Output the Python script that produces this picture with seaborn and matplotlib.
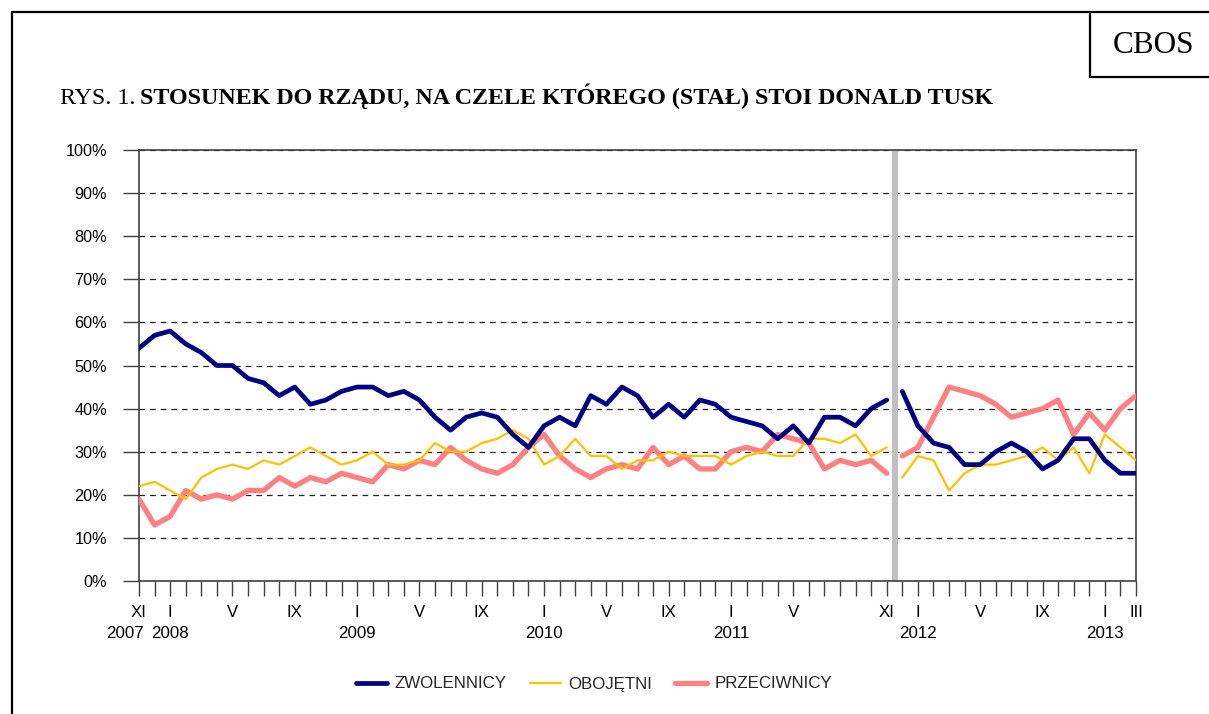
import numpy as np
import pandas as pd
import matplotlib
matplotlib.use("Agg")
import matplotlib.pyplot as plt
import matplotlib.transforms as mtransforms
from matplotlib.lines import Line2D
import seaborn as sns

# ---------------- data (percent) ----------------
# segment 1: XI 2007 - XI 2011 (monthly), segment 2: XII 2011 - III 2013
zwolennicy_1 = [54, 57, 58, 55, 53, 50, 50, 47, 46, 43, 45, 41, 42, 44, 45, 45, 43,
                44, 42, 38, 35, 38, 39, 38, 34, 31, 36, 38, 36, 43, 41, 45, 43,
                38, 41, 38, 42, 41, 38, 37, 36, 33, 36, 32, 38, 38, 36, 40, 42]
zwolennicy_2 = [44, 36, 32, 31, 27, 27, 30, 32, 30, 26, 28, 33, 33, 28, 25, 25]

obojetni_1 = [22, 23, 21, 19, 24, 26, 27, 26, 28, 27, 29, 31, 29, 27, 28, 30, 27,
              27, 28, 32, 30, 30, 32, 33, 35, 33, 27, 29, 33, 29, 29, 26, 28,
              28, 30, 29, 29, 29, 27, 29, 30, 29, 29, 33, 33, 32, 34, 29, 31]
obojetni_2 = [24, 29, 28, 21, 25, 27, 27, 28, 29, 31, 28, 31, 25, 34, 31, 28]

przeciwnicy_1 = [19, 13, 15, 21, 19, 20, 19, 21, 21, 24, 22, 24, 23, 25, 24, 23, 27,
                 26, 28, 27, 31, 28, 26, 25, 27, 31, 34, 29, 26, 24, 26, 27, 26,
                 31, 27, 29, 26, 26, 30, 31, 30, 34, 33, 32, 26, 28, 27, 28, 25]
przeciwnicy_2 = [29, 31, 38, 45, 44, 43, 41, 38, 39, 40, 42, 34, 39, 35, 40, 43]

series_names = ["ZWOLENNICY", "OBOJĘTNI", "PRZECIWNICY"]
series_colors = {"ZWOLENNICY": "#000080", "OBOJĘTNI": "#FFC000", "PRZECIWNICY": "#FF8080"}
series_widths = {"ZWOLENNICY": 3.4, "OBOJĘTNI": 1.6, "PRZECIWNICY": 3.8}

# month tick labels (index 0 = XI 2007, 64 = III 2013)
month_label_pos = [0, 2, 6, 10, 14, 18, 22, 26, 30, 34, 38, 42, 48, 50, 54, 58, 62, 64]
month_label_txt = ["XI", "I", "V", "IX", "I", "V", "IX", "I", "V", "IX", "I", "V",
                   "XI", "I", "V", "IX", "I", "III"]
year_label_pos = [-0.9, 2, 14, 26, 38, 50, 62]
year_label_txt = ["2007", "2008", "2009", "2010", "2011", "2012", "2013"]

title_regular = "RYS. 1."
title_bold = "STOSUNEK DO RZĄDU, NA CZELE KTÓREGO (STAŁ) STOI DONALD TUSK"

# ---------------- long table ----------------
rows = []
seg_data = {
    "ZWOLENNICY": (zwolennicy_1, zwolennicy_2),
    "OBOJĘTNI": (obojetni_1, obojetni_2),
    "PRZECIWNICY": (przeciwnicy_1, przeciwnicy_2),
}
for name, (s1, s2) in seg_data.items():
    for i, v in enumerate(s1):
        rows.append((name, 1, i, v))
    for i, v in enumerate(s2):
        rows.append((name, 2, len(s1) + i, v))
df = pd.DataFrame(rows, columns=["seria", "odcinek", "miesiac", "procent"])

# ---------------- style ----------------
sns.set_style("white")
plt.rcParams["font.family"] = ["Liberation Sans", "DejaVu Sans"]

W, H = 1209, 714
fig = plt.figure(figsize=(W / 100, H / 100), dpi=100)
L, R, T, B = 139, 1136, 150, 581
ax = fig.add_axes([L / W, 1 - B / H, (R - L) / W, (B - T) / H])

# vertical separator
ax.axvline(48.5, color="#C0C0C0", lw=4.4, zorder=1)

for name in ["PRZECIWNICY", "OBOJĘTNI", "ZWOLENNICY"]:
    sub = df[df["seria"] == name]
    sns.lineplot(data=sub, x="miesiac", y="procent", units="odcinek", estimator=None,
                 color=series_colors[name], linewidth=series_widths[name], ax=ax,
                 legend=False, solid_joinstyle="round", solid_capstyle="round", zorder=3)

ax.set_xlim(0, 64)
ax.set_ylim(0, 100)
ax.set_xlabel("")
ax.set_ylabel("")

# y axis
yt = list(range(0, 101, 10))
ax.set_yticks(yt)
ax.set_yticklabels([f"{v}%" for v in yt], fontsize=11.7, color="#000000")
ax.yaxis.grid(True, color="#222222", linestyle=(0, (4.5, 4)), linewidth=0.9)
ax.xaxis.grid(False)
ax.set_axisbelow(True)
ax.tick_params(axis="y", which="major", direction="out", length=11.5, width=1,
               color="#404040", pad=11.5, left=True)

# x axis: tick every month, labels at selected months
ax.set_xticks(range(0, 65))
xlabels = [""] * 65
for p, t in zip(month_label_pos, month_label_txt):
    xlabels[p] = t
ax.set_xticklabels(xlabels, fontsize=12.2, color="#000000")
ax.tick_params(axis="x", which="major", direction="out", length=10.8, width=1,
               color="#404040", pad=6.5, bottom=True)

trans = mtransforms.blended_transform_factory(ax.transData, ax.transAxes)
for p, t in zip(year_label_pos, year_label_txt):
    ax.text(p, -(634 - B) / (B - T), t, transform=trans, ha="center", va="center",
            fontsize=12.2, color="#000000")

for sp in ax.spines.values():
    sp.set_visible(True)
    sp.set_color("#404040")
    sp.set_linewidth(1.2)

# legend
handles = [Line2D([0], [0], color=series_colors[n], lw=series_widths[n],
                  solid_capstyle="round") for n in series_names]
fig.legend(handles, series_names, loc="center", bbox_to_anchor=(594 / W, 1 - 684 / H),
           ncol=3, frameon=False, fontsize=12.2, handlelength=1.85, handletextpad=0.45,
           columnspacing=1.35)

# title
t1 = fig.text(60 / W, 1 - 104 / H, title_regular, fontsize=17.3,
              family=["Liberation Serif", "DejaVu Serif"], ha="left", va="baseline",
              color="black")
fig.canvas.draw()
bb = t1.get_window_extent()
fig.text((bb.x1 + 5) / W, 1 - 104 / H, title_bold, fontsize=17.3, fontweight="bold",
         family=["Liberation Serif", "DejaVu Serif"], ha="left", va="baseline",
         color="black")

# CBOS box and page frame
fig.text(1154 / W, 1 - 53 / H, "CBOS", fontsize=22.5,
         family=["Liberation Serif", "DejaVu Serif"], ha="center", va="baseline",
         color="black")

def fline(x0, y0, x1, y1):
    fig.add_artist(Line2D([x0 / W, x1 / W], [1 - y0 / H, 1 - y1 / H],
                          transform=fig.transFigure, color="black", lw=1.6))

fline(12, 12, W + 2, 12)
fline(12, 12, 12, H + 2)
fline(1090, 12, 1090, 77)
fline(1090, 77, W + 2, 77)

fig.savefig("out.png", dpi=100)
